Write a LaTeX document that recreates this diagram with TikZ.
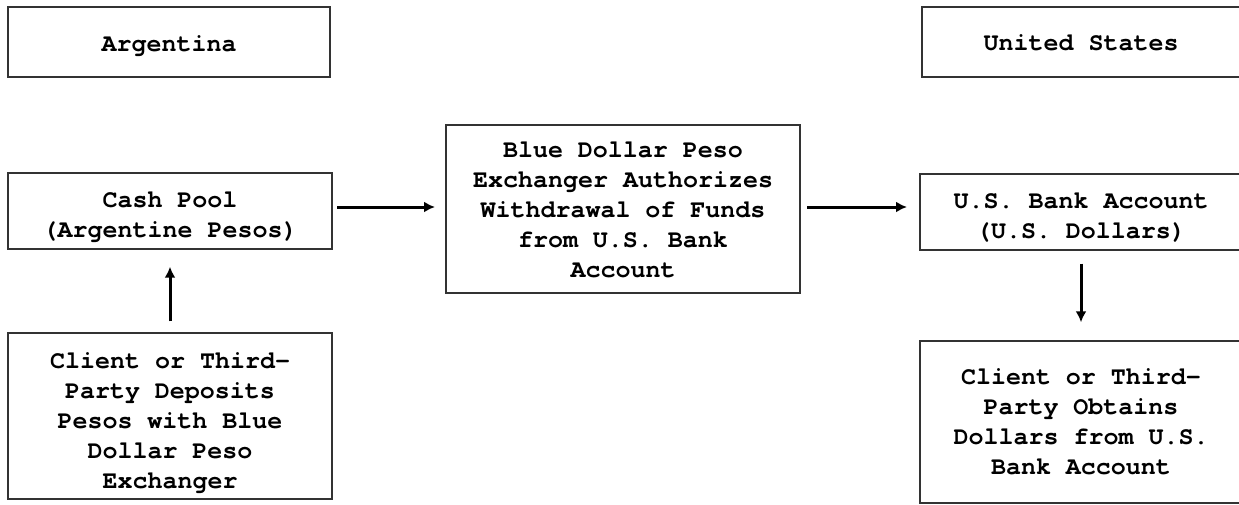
\documentclass[tikz,border=0pt]{standalone}
\usepackage{fontspec}
\setmonofont{TeX Gyre Cursor}
\usetikzlibrary{arrows.meta}
\newcommand\bxtext[2]{\raisebox{#1}[\height][\depth]{\begin{tabular}{@{}c@{}}#2\end{tabular}}}
\begin{document}
\begin{tikzpicture}[x=1pt,y=-1pt,
  box/.style={draw=black!80,line width=1.4pt,rectangle,inner sep=0pt,
    font=\ttfamily\bfseries\fontsize{25}{30}\selectfont},
  arr/.style={line width=3pt,-{Latex[length=11pt,width=11pt]}}]
\useasboundingbox (0,0) rectangle (1239,504);
\clip (0,0) rectangle (1239,504);
\node[box,minimum width=322pt,minimum height=70pt] (arg) at (169,42) {\bxtext{-3pt}{Argentina}};
\node[box,minimum width=324pt,minimum height=76pt] (cash) at (170,211) {\bxtext{-5pt}{Cash Pool\\(Argentine Pesos)}};
\node[box,minimum width=324pt,minimum height=166pt] (dep) at (170,416) {\bxtext{-6pt}{Client or Third-\\Party Deposits\\Pesos with Blue\\Dollar Peso\\Exchanger}};
\node[box,minimum width=354pt,minimum height=168pt] (mid) at (623,209) {\bxtext{-2pt}{Blue Dollar Peso\\Exchanger Authorizes\\Withdrawal of Funds\\from U.S. Bank\\Account}};
\node[box,minimum width=318pt,minimum height=70pt] (us) at (1081,42) {\bxtext{-2pt}{United States}};
\node[box,minimum width=322pt,minimum height=76pt] (bank) at (1081,212) {\bxtext{-5pt}{U.S. Bank Account\\(U.S. Dollars)}};
\node[box,minimum width=322pt,minimum height=162pt] (obt) at (1081,422) {\bxtext{-1pt}{Client or Third-\\Party Obtains\\Dollars from U.S.\\Bank Account}};
\coordinate (a1) at (337,207);
\coordinate (a2) at (435,207);
\draw[arr] (a1) -- (a2);
\coordinate (b1) at (807,207);
\coordinate (b2) at (907,207);
\draw[arr] (b1) -- (b2);
\draw[arr] ([yshift=11pt]dep.north) -- ([yshift=-17pt]cash.south);
\draw[arr] ([yshift=-13pt]bank.south) -- ([yshift=18pt]obt.north);
\end{tikzpicture}
\end{document}
